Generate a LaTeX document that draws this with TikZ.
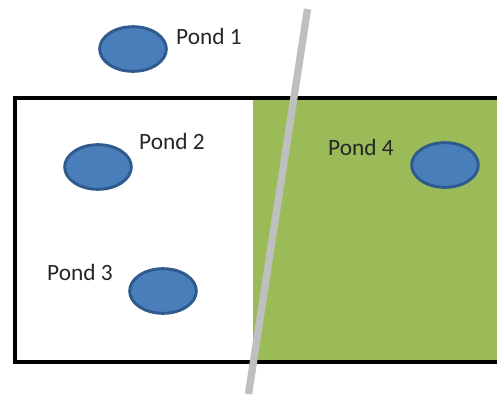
\documentclass[tikz,border=0pt]{standalone}
\usepackage{fontspec}
\setmainfont{Carlito}
\usetikzlibrary{shapes.geometric}
\definecolor{pondfill}{HTML}{4A7EBB}
\definecolor{pondline}{HTML}{2F5A8E}
\definecolor{fieldgreen}{HTML}{9BBB59}
\definecolor{roadgray}{HTML}{BFBFBF}
\tikzset{
  pond/.style={ellipse, draw=pondline, fill=pondfill, line width=2.2pt,
    minimum width=50pt, minimum height=33.5pt, inner sep=0pt},
  lbl/.style={font=\fontsize{17.5}{20}\selectfont, inner sep=0pt, text=black!85}
}
\begin{document}
\begin{tikzpicture}[x=0.75pt,y=-0.75pt]
\useasboundingbox (0,0) rectangle (497,394);
\clip (0,0) rectangle (497,394);
% field
\fill[fieldgreen] (253,97.5) rectangle (505,361.5);
\draw[line width=3pt] (505,97.5) -- (14.5,97.5) -- (14.5,361.5) -- (505,361.5);
% road
\coordinate (rt) at (307.5,9);
\coordinate (rb) at (248.5,394);
\draw[roadgray, line width=5.5pt] (rt) -- (rb);
% ponds
\node[pond] (p1) at (133,49) {};
\node[pond] (p2) at (98,167) {};
\node[pond] (p3) at (163,291) {};
\node[pond] (p4) at (445,165) {};
% labels
\node[lbl] (l1) at (209,36) {Pond 1};
\node[lbl] (l2) at (172,141) {Pond 2};
\node[lbl] (l3) at (80,272) {Pond 3};
\node[lbl] (l4) at (361,147) {Pond 4};
\end{tikzpicture}
\end{document}
